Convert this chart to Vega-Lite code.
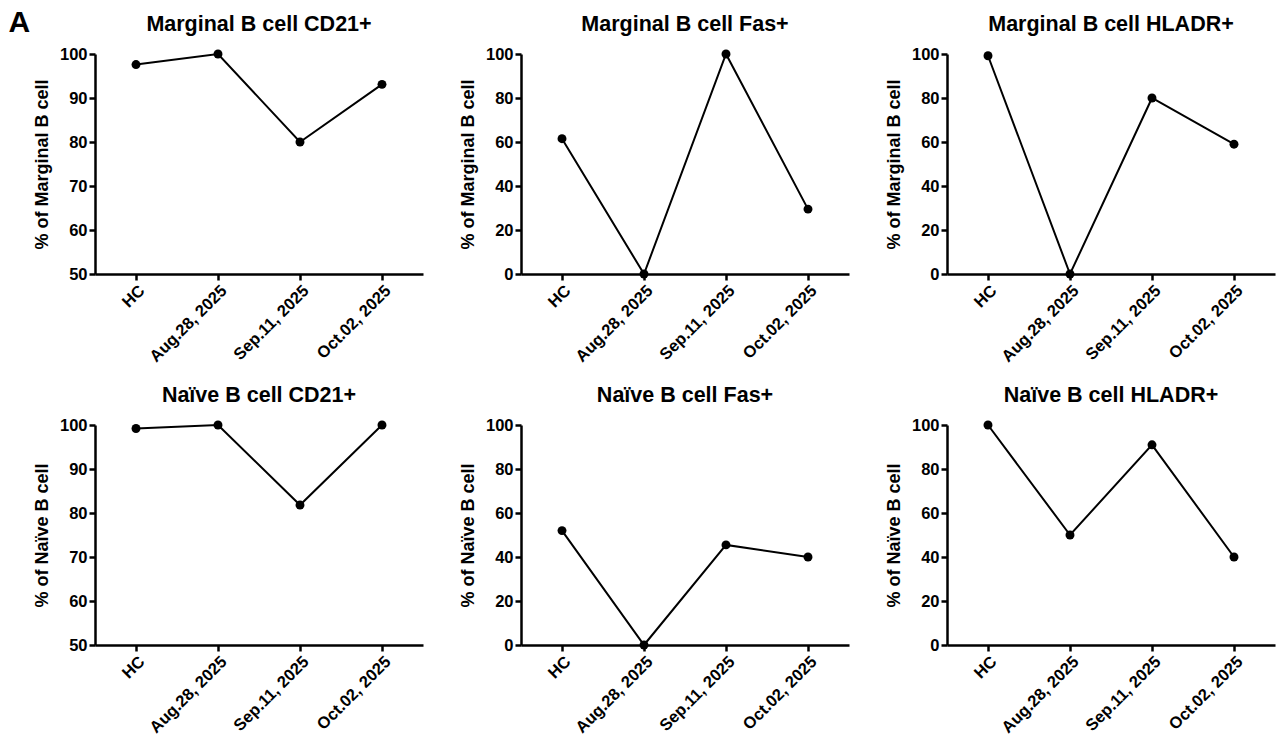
{
  "$schema": "https://vega.github.io/schema/vega-lite/v6.json",
  "background": "white",
  "padding": {"left": 8, "top": 7, "right": 5, "bottom": 0},
  "title": {"text": "A", "anchor": "start", "frame": "bounds", "fontSize": 30, "fontWeight": "bold", "font": "Liberation Sans", "color": "black", "offset": -24, "dx": -25},
  "data": {"values": [
    {"panel": "mcd21", "group": "HC", "value": 97.6},
    {"panel": "mcd21", "group": "Aug.28, 2025", "value": 100},
    {"panel": "mcd21", "group": "Sep.11, 2025", "value": 80},
    {"panel": "mcd21", "group": "Oct.02, 2025", "value": 93.1},
    {"panel": "mfas", "group": "HC", "value": 61.5},
    {"panel": "mfas", "group": "Aug.28, 2025", "value": 0},
    {"panel": "mfas", "group": "Sep.11, 2025", "value": 100},
    {"panel": "mfas", "group": "Oct.02, 2025", "value": 29.5},
    {"panel": "mhla", "group": "HC", "value": 99.2},
    {"panel": "mhla", "group": "Aug.28, 2025", "value": 0},
    {"panel": "mhla", "group": "Sep.11, 2025", "value": 80},
    {"panel": "mhla", "group": "Oct.02, 2025", "value": 59},
    {"panel": "ncd21", "group": "HC", "value": 99.2},
    {"panel": "ncd21", "group": "Aug.28, 2025", "value": 100},
    {"panel": "ncd21", "group": "Sep.11, 2025", "value": 81.8},
    {"panel": "ncd21", "group": "Oct.02, 2025", "value": 100},
    {"panel": "nfas", "group": "HC", "value": 52},
    {"panel": "nfas", "group": "Aug.28, 2025", "value": 0},
    {"panel": "nfas", "group": "Sep.11, 2025", "value": 45.5},
    {"panel": "nfas", "group": "Oct.02, 2025", "value": 40},
    {"panel": "nhla", "group": "HC", "value": 100},
    {"panel": "nhla", "group": "Aug.28, 2025", "value": 50},
    {"panel": "nhla", "group": "Sep.11, 2025", "value": 91},
    {"panel": "nhla", "group": "Oct.02, 2025", "value": 40}
  ]},
  "columns": 3,
  "spacing": {"row": 18, "column": 36},
  "concat": [
    {
      "title": "Marginal B cell CD21+",
      "width": 328, "height": 220,
      "transform": [{"filter": "datum.panel === 'mcd21'"}],
      "encoding": {
        "x": {"field": "group", "type": "nominal", "sort": null, "scale": {"type": "point", "padding": 0.5}, "axis": {"title": null, "labelAngle": -45}},
        "y": {"field": "value", "type": "quantitative", "scale": {"domain": [50, 100], "nice": false, "zero": false}, "axis": {"title": "% of Marginal B cell", "values": [50, 60, 70, 80, 90, 100]}}
      },
      "layer": [
        {"mark": {"type": "line", "color": "black", "strokeWidth": 2}},
        {"mark": {"type": "point", "filled": true, "color": "black", "size": 80, "opacity": 1}}
      ]
    },
    {
      "title": "Marginal B cell Fas+",
      "width": 328, "height": 220,
      "transform": [{"filter": "datum.panel === 'mfas'"}],
      "encoding": {
        "x": {"field": "group", "type": "nominal", "sort": null, "scale": {"type": "point", "padding": 0.5}, "axis": {"title": null, "labelAngle": -45}},
        "y": {"field": "value", "type": "quantitative", "scale": {"domain": [0, 100], "nice": false}, "axis": {"title": "% of Marginal B cell", "values": [0, 20, 40, 60, 80, 100]}}
      },
      "layer": [
        {"mark": {"type": "line", "color": "black", "strokeWidth": 2}},
        {"mark": {"type": "point", "filled": true, "color": "black", "size": 80, "opacity": 1}}
      ]
    },
    {
      "title": "Marginal B cell HLADR+",
      "width": 328, "height": 220,
      "transform": [{"filter": "datum.panel === 'mhla'"}],
      "encoding": {
        "x": {"field": "group", "type": "nominal", "sort": null, "scale": {"type": "point", "padding": 0.5}, "axis": {"title": null, "labelAngle": -45}},
        "y": {"field": "value", "type": "quantitative", "scale": {"domain": [0, 100], "nice": false}, "axis": {"title": "% of Marginal B cell", "values": [0, 20, 40, 60, 80, 100]}}
      },
      "layer": [
        {"mark": {"type": "line", "color": "black", "strokeWidth": 2}},
        {"mark": {"type": "point", "filled": true, "color": "black", "size": 80, "opacity": 1}}
      ]
    },
    {
      "title": "Naïve B cell CD21+",
      "width": 328, "height": 220,
      "transform": [{"filter": "datum.panel === 'ncd21'"}],
      "encoding": {
        "x": {"field": "group", "type": "nominal", "sort": null, "scale": {"type": "point", "padding": 0.5}, "axis": {"title": null, "labelAngle": -45}},
        "y": {"field": "value", "type": "quantitative", "scale": {"domain": [50, 100], "nice": false, "zero": false}, "axis": {"title": "% of Naïve B cell", "values": [50, 60, 70, 80, 90, 100]}}
      },
      "layer": [
        {"mark": {"type": "line", "color": "black", "strokeWidth": 2}},
        {"mark": {"type": "point", "filled": true, "color": "black", "size": 80, "opacity": 1}}
      ]
    },
    {
      "title": "Naïve B cell Fas+",
      "width": 328, "height": 220,
      "transform": [{"filter": "datum.panel === 'nfas'"}],
      "encoding": {
        "x": {"field": "group", "type": "nominal", "sort": null, "scale": {"type": "point", "padding": 0.5}, "axis": {"title": null, "labelAngle": -45}},
        "y": {"field": "value", "type": "quantitative", "scale": {"domain": [0, 100], "nice": false}, "axis": {"title": "% of Naïve B cell", "values": [0, 20, 40, 60, 80, 100]}}
      },
      "layer": [
        {"mark": {"type": "line", "color": "black", "strokeWidth": 2}},
        {"mark": {"type": "point", "filled": true, "color": "black", "size": 80, "opacity": 1}}
      ]
    },
    {
      "title": "Naïve B cell HLADR+",
      "width": 328, "height": 220,
      "transform": [{"filter": "datum.panel === 'nhla'"}],
      "encoding": {
        "x": {"field": "group", "type": "nominal", "sort": null, "scale": {"type": "point", "padding": 0.5}, "axis": {"title": null, "labelAngle": -45}},
        "y": {"field": "value", "type": "quantitative", "scale": {"domain": [0, 100], "nice": false}, "axis": {"title": "% of Naïve B cell", "values": [0, 20, 40, 60, 80, 100]}}
      },
      "layer": [
        {"mark": {"type": "line", "color": "black", "strokeWidth": 2}},
        {"mark": {"type": "point", "filled": true, "color": "black", "size": 80, "opacity": 1}}
      ]
    }
  ],
  "config": {
    "font": "Liberation Sans",
    "view": {"stroke": null},
    "title": {"fontSize": 21.5, "fontWeight": "bold", "color": "black", "offset": 11},
    "axis": {
      "grid": false,
      "domainColor": "black", "domainWidth": 2.5,
      "tickColor": "black", "tickWidth": 2.5, "tickSize": 6,
      "labelFont": "Liberation Sans", "labelFontSize": 16.5, "labelFontWeight": "bold", "labelColor": "black", "labelPadding": 2,
      "titleFont": "Liberation Sans", "titleFontSize": 18, "titleFontWeight": "bold", "titleColor": "black", "titlePadding": 8
    },
    "axisX": {"labelFontSize": 16.5}
  }
}
